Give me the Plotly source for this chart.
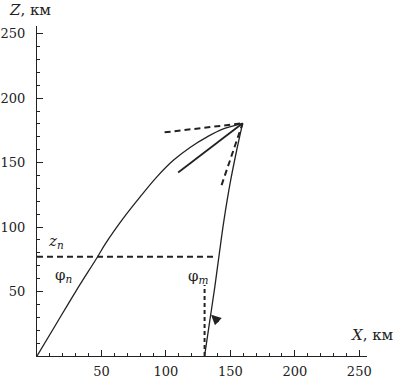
import plotly.graph_objects as go

# Ascending trajectory (km)
asc_x = [0, 15, 30, 47, 53, 67, 80, 93, 106, 119, 132, 144, 159.5]
asc_z = [0, 25, 50, 77, 87, 107, 123.5, 139, 152, 162, 170, 176, 180.5]

# Descending trajectory (km)
desc_x = [159.5, 155, 150, 145, 141.5, 138, 134, 130]
desc_z = [180.5, 160, 135, 105, 80, 54, 27, 0]

# Short solid segment from apex
seg_x = [109.5, 159.5]
seg_z = [142.4, 180.5]

# Dashed tangents at apex
tan1_x = [99, 159.5]
tan1_z = [173.5, 180.5]
tan2_x = [143.2, 159.5]
tan2_z = [132.6, 180.5]

# Dashed reference lines
hz_x = [0, 137]
hz_z = [77, 77]
vt_x = [130, 130]
vt_z = [0, 55]

# Arrow (tail -> head)
arrow_tail = (142, 25.5)
arrow_head = (135, 32)

ticks = [50, 100, 150, 200, 250]

W, H = 396, 382
L, R, T, B = 37, 29, 26, 26
PW = W - L - R
PH = H - T - B

def px(x):
    return (x - L) / PW

def py(y):
    return (H - B - y) / PH

FONT = "DejaVu Serif"
col = "#222222"

fig = go.Figure()
solid = dict(color=col, width=1.3)
dashed = dict(color=col, width=2, dash="6px,4px")

fig.add_trace(go.Scatter(x=asc_x, y=asc_z, mode="lines", line=dict(solid, shape="spline"), hoverinfo="skip"))
fig.add_trace(go.Scatter(x=desc_x, y=desc_z, mode="lines", line=dict(solid, shape="spline"), hoverinfo="skip"))
fig.add_trace(go.Scatter(x=seg_x, y=seg_z, mode="lines", line=dict(color=col, width=1.8), hoverinfo="skip"))
fig.add_trace(go.Scatter(x=tan1_x, y=tan1_z, mode="lines", line=dashed, hoverinfo="skip"))
fig.add_trace(go.Scatter(x=tan2_x, y=tan2_z, mode="lines", line=dashed, hoverinfo="skip"))
fig.add_trace(go.Scatter(x=hz_x, y=hz_z, mode="lines", line=dashed, hoverinfo="skip"))
fig.add_trace(go.Scatter(x=vt_x, y=vt_z, mode="lines", line=dict(color=col, width=2, dash="4px,3px"), hoverinfo="skip"))

fig.add_annotation(x=arrow_head[0], y=arrow_head[1], ax=arrow_tail[0], ay=arrow_tail[1],
                   xref="x", yref="y", axref="x", ayref="y", text="",
                   showarrow=True, arrowhead=2, arrowsize=0.8, arrowwidth=2.5, arrowcolor=col)

labels = [
    ("<i>Z</i>, км", 30, 10),
    ("<i>X</i>, км", 372, 335),
    ("<i>z</i><sub><i>n</i></sub>", 56, 241),
    ("φ<sub><i>n</i></sub>", 64, 275),
    ("φ<sub><i>m</i></sub>", 198, 276),
]
for text, x, y in labels:
    fig.add_annotation(x=px(x), y=py(y), xref="paper", yref="paper", text=text,
                       showarrow=False, font=dict(family=FONT, size=15, color=col),
                       xanchor="center", yanchor="middle")

axis_common = dict(
    showgrid=False, zeroline=False, showline=True, linecolor=col, linewidth=1.3,
    ticks="inside", ticklen=6, tickwidth=1.2, tickcolor=col,
    tickvals=ticks, ticktext=[str(t) for t in ticks],
    tickfont=dict(family=FONT, size=13, color=col),
    minor=dict(ticks="inside", dtick=10, tick0=0, ticklen=3, tickwidth=1, tickcolor=col),
    range=[0, 256], fixedrange=True, automargin=False,
)

fig.update_layout(
    width=W, height=H,
    margin=dict(l=L, r=R, t=T, b=B),
    paper_bgcolor="white", plot_bgcolor="white",
    showlegend=False,
    font=dict(family=FONT, color=col),
    xaxis=dict(axis_common, ticklabelstandoff=3),
    yaxis=dict(axis_common, ticklabelstandoff=8),
)

fig.write_html("out.html", config={"displayModeBar": False},
               post_script="document.body.style.margin='0';document.body.style.padding='0';")
